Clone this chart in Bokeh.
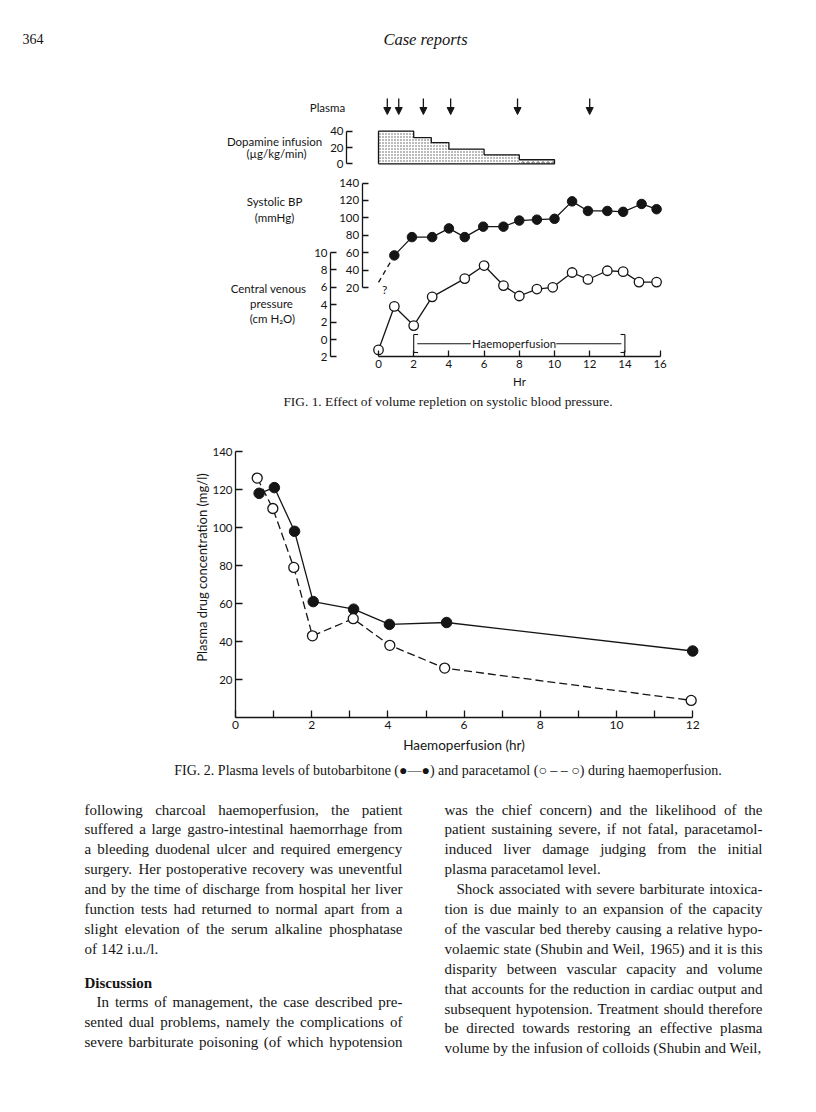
import math
from bokeh.plotting import figure
from bokeh.models import Range1d, LinearAxis, FixedTicker, Arrow, NormalHead, ColumnDataSource
from bokeh.core.properties import value
from bokeh.embed import file_html
from bokeh.resources import INLINE

# ------------------------------------------------------------------ data
# Fig. 1  (time axis in hours)
plasma_hours = [0.5, 1.15, 2.55, 4.1, 7.9, 12.0]
dopamine_from = [0, 2, 3, 4, 6, 8]
dopamine_to = [2, 3, 4, 6, 8, 10]
dopamine_rate = [40, 32, 26, 18, 11, 5]
bp_hours = [0.9, 1.9, 3.05, 4.0, 4.9, 5.95, 7.1, 8.0, 9.0, 10.0, 11.0, 11.9, 13.0, 13.9, 14.95, 15.8]
bp_mmhg = [57, 78, 78, 88, 78, 90, 90, 97, 98, 99, 119, 108, 108, 107, 116, 110]
bp_unknown_hour = 0.0
bp_unknown_mmhg = 26
cvp_hours = [0.0, 0.9, 2.0, 3.05, 4.9, 6.0, 7.1, 8.0, 9.0, 9.9, 11.0, 11.9, 13.0, 13.9, 14.8, 15.8]
cvp_cmh2o = [-1.2, 3.8, 1.6, 4.9, 7.0, 8.5, 6.2, 5.0, 5.8, 6.0, 7.7, 6.9, 7.9, 7.8, 6.6, 6.6]
haemoperfusion_hours = [2, 14]
hr_ticks = [0, 2, 4, 6, 8, 10, 12, 14, 16]
dopamine_ticks = [0, 20, 40]
bp_ticks = [20, 40, 60, 80, 100, 120, 140]
cvp_ticks = [-2, 0, 2, 4, 6, 8, 10]

# Fig. 2
buto_hours = [0.62, 1.02, 1.55, 2.04, 3.1, 4.04, 5.54, 12.0]
buto_mgl = [118, 121, 98, 61, 57, 49, 50, 35]
para_hours = [0.57, 0.98, 1.53, 2.02, 3.09, 4.05, 5.49, 11.96]
para_mgl = [126, 110, 79, 43, 52, 38, 26, 9]
f2_x_ticks = list(range(0, 13))
f2_y_ticks = [20, 40, 60, 80, 100, 120, 140]

# page text
header_page = "364"
header_title = "Case reports"
caption1 = "FIG. 1. Effect of volume repletion on systolic blood pressure."
caption2 = "FIG. 2. Plasma levels of butobarbitone (\u25cf\u2014\u25cf) and paracetamol (\u25cb \u2013 \u2013 \u25cb) during haemoperfusion."
left_col = [
    "following charcoal haemoperfusion, the patient",
    "suffered a large gastro-intestinal haemorrhage from",
    "a bleeding duodenal ulcer and required emergency",
    "surgery. Her postoperative recovery was uneventful",
    "and by the time of discharge from hospital her liver",
    "function tests had returned to normal apart from a",
    "slight elevation of the serum alkaline phosphatase",
    "of 142 i.u./l.",
]
left_last = [7]
discussion_head = "Discussion"
discussion_lines = [
    "In terms of management, the case described pre-",
    "sented dual problems, namely the complications of",
    "severe barbiturate poisoning (of which hypotension",
]
discussion_indent = [0]
right_col = [
    "was the chief concern) and the likelihood of the",
    "patient sustaining severe, if not fatal, paracetamol-",
    "induced liver damage judging from the initial",
    "plasma paracetamol level.",
    "Shock associated with severe barbiturate intoxica-",
    "tion is due mainly to an expansion of the capacity",
    "of the vascular bed thereby causing a relative hypo-",
    "volaemic state (Shubin and Weil, 1965) and it is this",
    "disparity between vascular capacity and volume",
    "that accounts for the reduction in cardiac output and",
    "subsequent hypotension. Treatment should therefore",
    "be directed towards restoring an effective plasma",
    "volume by the infusion of colloids (Shubin and Weil,",
]
right_indent = [4]
right_last = [3]

# ------------------------------------------------------------------ layout (page pixels)
W, H = 814, 1110
F1_X0, F1_XK = 378.0, 17.6          # hour 0 position, px per hour
DOPA_Y0, DOPA_K = 163.3, 0.815
BP_Y0, BP_K = 304.6, 0.8717
CVP_Y0, CVP_K = 339.0, 8.7
CVP_AX_PX, DOPA_AX_PX, BP_AX_PX = 330.0, 346.0, 361.7
F2_X0, F2_XK = 235.0, 38.1
F2_Y0, F2_YK = 717.0, 1.9
TEXT_Y0, TEXT_DY = 809.0, 19.9
LEFT_X, RIGHT_X, COL_W = 84.0, 444.0, 318.0
DISC_Y = 982.0
INDENT = 12
BODY_SIZE = 15.0

FIG_FONT = "Lato"
SERIF = "Liberation Serif"
INK = "#151515"
LW = 1.3

# Times-compatible advance widths (per 1000 em) used to justify the body text
_TW = {" ": 250, "!": 333, "(": 333, ")": 333, ",": 250, "-": 333, ".": 250, "/": 278,
       ":": 278, ";": 278, "?": 444, "'": 333}
for _c in "0123456789":
    _TW[_c] = 500
_TW.update(dict(zip("ABCDEFGHIJKLMNOPQRSTUVWXYZ",
                    [722, 667, 667, 722, 611, 556, 722, 722, 333, 389, 722, 611, 889, 722, 722,
                     556, 722, 667, 556, 611, 722, 722, 944, 722, 722, 611])))
_TW.update(dict(zip("abcdefghijklmnopqrstuvwxyz",
                    [444, 500, 444, 500, 444, 333, 500, 500, 278, 278, 500, 278, 778, 500, 500,
                     500, 500, 333, 389, 278, 500, 500, 722, 500, 500, 444])))


def text_width(s, size):
    return sum(_TW.get(c, 500) for c in s) / 1000.0 * size


def xmap(px0, k):
    return Range1d((0 - px0) / k, (W - px0) / k)


def ymap(py0, k):
    return Range1d((py0 - H) / k, (py0 - 0) / k)


def hrs(px):
    return (px - F1_X0) / F1_XK


def dopa_at(py):
    return (DOPA_Y0 - py) / DOPA_K


def cvp_at(py):
    return (CVP_Y0 - py) / CVP_K


p = figure(width=W, height=H, x_range=Range1d(0, W), y_range=Range1d(H, 0),
           x_axis_type=None, y_axis_type=None, min_border=0, toolbar_location=None,
           output_backend="svg", outline_line_color=None,
           background_fill_color="white", border_fill_color="white")
p.extra_x_ranges = {"f1x": xmap(F1_X0, F1_XK), "f2x": xmap(F2_X0, F2_XK)}
p.extra_y_ranges = {"dopa": ymap(DOPA_Y0, DOPA_K), "bp": ymap(BP_Y0, BP_K),
                    "cvp": ymap(CVP_Y0, CVP_K), "f2y": ymap(F2_Y0, F2_YK)}


def add_axis(side, xname, yname, loc, ticks, bounds, overrides=None, label=None,
             label_standoff=4, tick_in=6, size="11.5px", label_size="11.5px", standoff=3):
    ax = LinearAxis(x_range_name=xname, y_range_name=yname, fixed_location=loc,
                    bounds=bounds, ticker=FixedTicker(ticks=ticks))
    ax.major_tick_in = tick_in
    ax.major_tick_out = 0
    ax.minor_tick_in = 0
    ax.minor_tick_out = 0
    ax.axis_line_width = LW
    ax.axis_line_color = INK
    ax.major_tick_line_width = LW
    ax.major_tick_line_color = INK
    ax.major_label_text_font = FIG_FONT
    ax.major_label_text_font_size = size
    ax.major_label_text_color = INK
    ax.major_label_standoff = standoff
    if overrides:
        ax.major_label_overrides = overrides
    if label:
        ax.axis_label = label
        ax.axis_label_text_font = FIG_FONT
        ax.axis_label_text_font_style = "normal"
        ax.axis_label_text_font_size = label_size
        ax.axis_label_text_color = INK
        ax.axis_label_standoff = label_standoff
    p.add_layout(ax, side)


def txt(x, y, s, size, font=FIG_FONT, align="center", style="normal", xn="default", yn="default", angle=0.0):
    p.text(x=x if isinstance(x, list) else [x], y=y if isinstance(y, list) else [y],
           text=s if isinstance(s, list) else [s], text_font=value(font), text_font_size=size,
           text_align=align, text_baseline="middle", text_font_style=style, text_color=INK,
           angle=angle, x_range_name=xn, y_range_name=yn)


def body(lines, x0, y0, indents, lasts):
    xs, ys, ws = [], [], []
    for i, line in enumerate(lines):
        words = line.split(" ")
        start = x0 + (INDENT if i in indents else 0)
        avail = x0 + COL_W - start
        widths = [text_width(w, BODY_SIZE) for w in words]
        if i in lasts or len(words) < 2:
            gap = text_width(" ", BODY_SIZE)
        else:
            gap = (avail - sum(widths)) / (len(words) - 1)
        x = start
        for w, wd in zip(words, widths):
            xs.append(x)
            ys.append(y0 + i * TEXT_DY)
            ws.append(w)
            x += wd + gap
    txt(xs, ys, ws, "%gpx" % BODY_SIZE, font=SERIF, align="left")


# ------------------------------------------------------------------ Fig. 1
dx, dy = [dopamine_from[0]], [0]
for a, b, r in zip(dopamine_from, dopamine_to, dopamine_rate):
    dx += [a, b]
    dy += [r, r]
dx += [dopamine_to[-1], dopamine_from[0]]
dy += [0, 0]
p.patch(dx, dy, fill_color="white", hatch_pattern="dot", hatch_scale=3.0, hatch_weight=0.9,
        hatch_color="#555555", line_color=None, x_range_name="f1x", y_range_name="dopa")
p.quad(left=dopamine_from[-1:], right=dopamine_to[-1:], bottom=[0], top=dopamine_rate[-1:],
       fill_color="white", hatch_pattern="ring", hatch_scale=5, hatch_weight=0.8,
       hatch_color="#444444", line_color=None, x_range_name="f1x", y_range_name="dopa")
p.line(dx, dy, line_color=INK, line_width=LW, x_range_name="f1x", y_range_name="dopa")

arr_src = ColumnDataSource(dict(x=plasma_hours, y0=[dopa_at(98)] * len(plasma_hours),
                                y1=[dopa_at(114)] * len(plasma_hours)))
p.add_layout(Arrow(end=NormalHead(size=7, fill_color=INK, line_color=INK, line_width=1),
                   x_start="x", y_start="y0", x_end="x", y_end="y1", source=arr_src,
                   line_width=LW, line_color=INK, x_range_name="f1x", y_range_name="dopa"))

add_axis("below", "f1x", "cvp", cvp_ticks[0], hr_ticks, (hr_ticks[0], hr_ticks[-1]),
         label="Hr", label_standoff=4)
add_axis("left", "f1x", "cvp", hrs(CVP_AX_PX), cvp_ticks, (cvp_ticks[0], cvp_ticks[-1]),
         overrides={-2: "2"})
add_axis("left", "f1x", "dopa", hrs(DOPA_AX_PX), dopamine_ticks, (dopamine_ticks[0], dopamine_ticks[-1]))
add_axis("left", "f1x", "bp", hrs(BP_AX_PX), bp_ticks, (bp_ticks[0], bp_ticks[-1]))

p.line([bp_unknown_hour, bp_hours[0]], [bp_unknown_mmhg, bp_mmhg[0]], line_color=INK,
       line_width=LW, line_dash="5 4", x_range_name="f1x", y_range_name="bp")
p.line(bp_hours, bp_mmhg, line_color=INK, line_width=LW, x_range_name="f1x", y_range_name="bp")
p.scatter(bp_hours, bp_mmhg, marker="circle", size=9.5, fill_color=INK, line_color=INK,
          x_range_name="f1x", y_range_name="bp")
txt(bp_unknown_hour + 0.35, bp_unknown_mmhg - 8, "?", "12px", xn="f1x", yn="bp")

p.line(cvp_hours, cvp_cmh2o, line_color=INK, line_width=LW, x_range_name="f1x", y_range_name="cvp")
p.scatter(cvp_hours, cvp_cmh2o, marker="circle", size=9.5, fill_color="white", line_color=INK,
          line_width=LW, x_range_name="f1x", y_range_name="cvp")

h0, h1 = haemoperfusion_hours
ym, yt, yb = cvp_at(343.3), cvp_at(334.0), cvp_at(352.0)
serif_w = 0.25
p.segment(x0=[h0, h1, h0, h0, h1, h1, h0 + 0.2, 10.1],
          y0=[yt, yt, yt, yb, yt, yb, ym, ym],
          x1=[h0, h1, h0 + serif_w, h0 + serif_w, h1 - serif_w, h1 - serif_w, 5.25, h1 - 0.2],
          y1=[yb, yb, yt, yb, yt, yb, ym, ym],
          line_color=INK, line_width=1.1, x_range_name="f1x", y_range_name="cvp")
txt((h0 + h1) / 2 - 0.3, ym, "Haemoperfusion", "11.5px", xn="f1x", yn="cvp")

txt(327, 107, "Plasma", "11.5px")
txt([274, 276], [141, 153], ["Dopamine infusion", "(\u00b5g/kg/min)"], "11.5px")
txt([274, 274], [201, 217], ["Systolic BP", "(mmHg)"], "11.5px")
txt([268, 271, 272], [288, 303, 318], ["Central venous", "pressure", "(cm H\u2082O)"], "11.5px")
txt(447.5, 401, caption1, "13.4px", font=SERIF)

# ------------------------------------------------------------------ Fig. 2
add_axis("below", "f2x", "f2y", 0, f2_x_ticks, (f2_x_ticks[0], f2_x_ticks[-1]),
         overrides={t: "" for t in f2_x_ticks if t % 2}, label="Haemoperfusion (hr)",
         label_standoff=5, tick_in=7, size="12px", label_size="13.5px")
add_axis("left", "f2x", "f2y", 0, f2_y_ticks, (0, f2_y_ticks[-1]), tick_in=7, size="11.5px", standoff=3)
txt(201, 567, "Plasma drug concentration (mg/l)", "13px", angle=math.pi / 2)

p.line(buto_hours, buto_mgl, line_color=INK, line_width=LW, x_range_name="f2x", y_range_name="f2y")
p.line(para_hours, para_mgl, line_color=INK, line_width=LW, line_dash="8 4",
       x_range_name="f2x", y_range_name="f2y")
p.scatter(buto_hours, buto_mgl, marker="circle", size=10.5, fill_color=INK, line_color=INK,
          x_range_name="f2x", y_range_name="f2y")
p.scatter(para_hours, para_mgl, marker="circle", size=10, fill_color="white", line_color=INK,
          line_width=LW, x_range_name="f2x", y_range_name="f2y")
txt(447.5, 770, caption2, "14px", font=SERIF)

# ------------------------------------------------------------------ page text
txt(22, 38, header_page, "14px", font=SERIF, align="left")
txt(425, 39, header_title, "16.5px", font=SERIF, style="italic")

body(left_col, LEFT_X, TEXT_Y0, [], left_last)
txt(LEFT_X, DISC_Y, discussion_head, "%gpx" % BODY_SIZE, font=SERIF, align="left", style="bold")
body(discussion_lines, LEFT_X, DISC_Y + TEXT_DY, discussion_indent, [])
body(right_col, RIGHT_X, TEXT_Y0, right_indent, right_last)

open("out.html", "w").write(file_html(p, INLINE))
